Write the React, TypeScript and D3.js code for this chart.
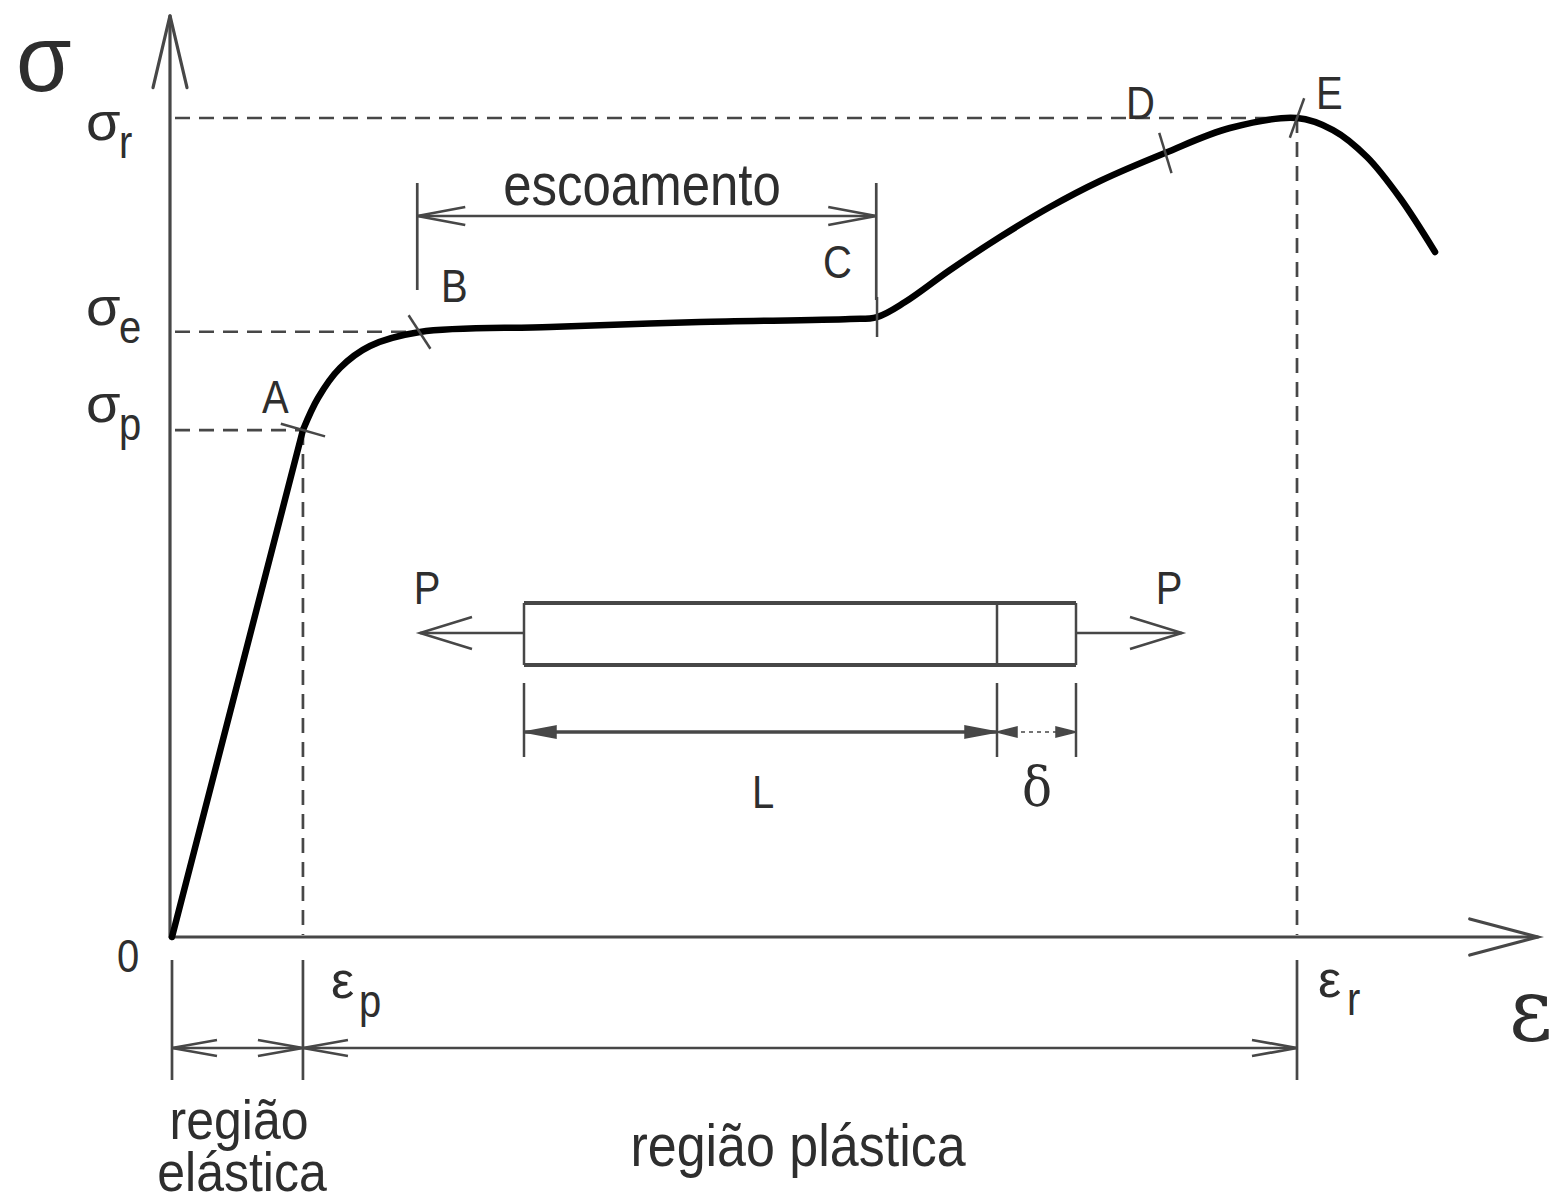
import React from "react";
import * as d3 from "d3";

// ---- data ----
const strainValues = [0, 11.64];
const stressValues = [0, 61.9];
const plasticStrain = [11.64, 12.98, 14.93, 17.6, 22.04, 33.6, 46.93, 60.27, 62.67, 65.16, 69.16, 73.6, 78.04, 82.49, 88.27, 94.04, 100, 103.2, 106.22, 109.16, 112.27];
const plasticStress = [61.9, 65.81, 69.47, 72.16, 73.87, 74.48, 75.09, 75.46, 75.7, 77.53, 81.44, 85.47, 89.13, 92.31, 95.73, 98.78, 100, 98.53, 95.24, 90.23, 83.64];

const pointLabels = ["A", "B", "C", "D", "E"];
const pointStrain = [11.64, 22.0, 62.67, 88.3, 100];
const pointStress = [61.9, 73.87, 75.7, 95.73, 100];

const sigmaLabels = ["r", "e", "p"];
const sigmaValues = [100, 73.9, 61.9];
const sigmaDashEnd = [100, 21.0, 11.64];

const epsLabels = ["p", "r"];
const epsValues = [11.64, 100];
const epsTopStress = [61.9, 100];

// ---- styling ----
const FONT = "'Liberation Sans', Arial, Helvetica, sans-serif";
const AXIS = "#474747";
const TXT = "#2e2e2e";

const tickAngles = [16, 57, 90, 73, -70];
const tickHalf = [23, 20, 20, 21, 21];

function openArrow(tx: number, ty: number, angleDeg: number, len: number, half: number) {
  const a = (angleDeg * Math.PI) / 180;
  const bx = tx - Math.cos(a) * len;
  const by = ty - Math.sin(a) * len;
  const nx = -Math.sin(a) * half;
  const ny = Math.cos(a) * half;
  return `M${bx + nx},${by + ny}L${tx},${ty}L${bx - nx},${by - ny}`;
}

function filledArrow(tx: number, ty: number, angleDeg: number, len: number, half: number) {
  const a = (angleDeg * Math.PI) / 180;
  const bx = tx - Math.cos(a) * len;
  const by = ty - Math.sin(a) * len;
  const nx = -Math.sin(a) * half;
  const ny = Math.cos(a) * half;
  return `M${bx + nx},${by + ny}L${tx},${ty}L${bx - nx},${by - ny}Z`;
}

const T = (props: any) => {
  const { x, y, size, sy = 1.15, children, anchor = "start", family = FONT, color = TXT } = props;
  return (
    <text
      transform={`translate(${x},${y}) scale(1,${sy})`}
      fontFamily={family}
      fontSize={size}
      fill={color}
      textAnchor={anchor}
    >
      {children}
    </text>
  );
};

export default function App() {
  const W = 1553, H = 1203;
  const x = d3.scaleLinear().domain([0, 100]).range([172, 1297]);
  const y = d3.scaleLinear().domain([0, 100]).range([937, 118]);

  const elastic = d3.line<number>().x((d, i) => x(strainValues[i])).y((d, i) => y(stressValues[i]));
  const plastic = d3
    .line<number>()
    .x((d, i) => x(plasticStrain[i]))
    .y((d, i) => y(plasticStress[i]))
    .curve(d3.curveCatmullRom.alpha(0.5));

  const x0 = x(0), y0 = y(0);
  const yTop = y(112.5);
  const xEnd = x(121.4);

  const dimY = 1048;
  const dimTop = 960, dimBot = 1080;

  // specimen (schematic) in pixel space
  const sL = 524, sR = 1076, sM = 997, sT = 603, sB = 665, sC = 633;
  const sDimY = 732;

  return (
    <svg width={W} height={H} style={{ position: "absolute", left: 0, top: 0, background: "#fff" }}>
      <rect width={W} height={H} fill="#fff" />
      {/* dashed reference lines */}
      <g stroke={AXIS} strokeWidth={2.7} strokeDasharray="15,9" fill="none">
        {sigmaValues.map((v, i) => (
          <line key={"sd" + i} x1={x0 + 3} x2={x(sigmaDashEnd[i])} y1={y(v)} y2={y(v)} />
        ))}
        {epsValues.map((v, i) => (
          <line key={"ed" + i} x1={x(v)} x2={x(v)} y1={y(epsTopStress[i])} y2={y0 - 2} />
        ))}
      </g>

      {/* axes */}
      <g stroke={AXIS} strokeWidth={3.2} fill="none" strokeLinecap="round">
        <line x1={x0 - 2} y1={y0} x2={x0 - 2} y2={yTop} />
        <path d={openArrow(x0 - 2, yTop, -90, 72, 17)} />
        <line x1={x0} y1={y0} x2={xEnd} y2={y0} />
        <path d={openArrow(xEnd, y0, 0, 68, 18)} />
      </g>

      {/* curve */}
      <path d={elastic(strainValues) || ""} stroke="#000" strokeWidth={6.5} fill="none" strokeLinecap="round" />
      <path d={plastic(plasticStrain) || ""} stroke="#000" strokeWidth={6.5} fill="none" strokeLinecap="round" strokeLinejoin="round" />

      {/* point tick marks */}
      <g stroke={AXIS} strokeWidth={2.5}>
        {pointLabels.map((l, i) => {
          const px = x(pointStrain[i]), py = y(pointStress[i]);
          const a = (tickAngles[i] * Math.PI) / 180;
          const h = tickHalf[i];
          return (
            <line key={"tk" + l} x1={px - Math.cos(a) * h} y1={py - Math.sin(a) * h} x2={px + Math.cos(a) * h} y2={py + Math.sin(a) * h} />
          );
        })}
      </g>

      {/* escoamento dimension */}
      <g stroke={AXIS} strokeWidth={2.7} fill="none">
        <line x1={x(21.8)} x2={x(21.8)} y1={183} y2={290} />
        <line x1={x(62.6)} x2={x(62.6)} y1={183} y2={300} />
        <line x1={x(21.8)} x2={x(62.6)} y1={216} y2={216} />
        <path d={openArrow(x(21.8), 216, 180, 48, 9)} />
        <path d={openArrow(x(62.6), 216, 0, 48, 9)} />
      </g>
      <T x={642} y={205} size={51} anchor="middle">escoamento</T>

      {/* point labels */}
      <T x={262} y={413} size={40}>A</T>
      <T x={441} y={302} size={40}>B</T>
      <T x={823} y={278} size={40}>C</T>
      <T x={1126} y={119} size={40}>D</T>
      <T x={1316} y={109} size={40}>E</T>

      {/* sigma labels */}
      <T x={16} y={91} size={90} sy={1.05}>σ</T>
      {sigmaLabels.map((l, i) => {
        const offs = [22, -7, -8][i];
        const base = y(sigmaValues[i]) + offs;
        return (
          <g key={"sl" + l}>
            <T x={86} y={base} size={56} sy={0.95}>σ</T>
            <T x={119} y={base + 18} size={40}>{l}</T>
          </g>
        );
      })}

      {/* origin and epsilon labels */}
      <T x={117} y={972} size={40}>0</T>
      <T x={331} y={998} size={52} sy={1.0}>ε</T>
      <T x={359} y={1017} size={40}>p</T>
      <T x={1318} y={997} size={52} sy={1.0}>ε</T>
      <T x={1347} y={1015} size={40}>r</T>
      <T x={1509} y={1040} size={84} sy={1.05} family="'DejaVu Serif', 'Liberation Serif', serif">ε</T>

      {/* region dimension below axis */}
      <g stroke={AXIS} strokeWidth={2.7} fill="none">
        {[0, ...epsValues].map((v, i) => (
          <line key={"rv" + i} x1={x(v)} x2={x(v)} y1={dimTop} y2={dimBot} />
        ))}
        <line x1={x(0)} x2={x(100)} y1={dimY} y2={dimY} />
        <path d={openArrow(x(0), dimY, 180, 45, 8)} />
        <path d={openArrow(x(11.64), dimY, 0, 45, 8)} />
        <path d={openArrow(x(11.64), dimY, 180, 45, 8)} />
        <path d={openArrow(x(100), dimY, 0, 45, 8)} />
      </g>
      <T x={239} y={1139} size={50} sy={1.1} anchor="middle">região</T>
      <T x={242} y={1191} size={50} sy={1.1} anchor="middle">elástica</T>
      <T x={798} y={1166} size={52} anchor="middle">região plástica</T>

      {/* specimen */}
      <g stroke={AXIS} fill="none">
        <line x1={sL} x2={sR} y1={sT} y2={sT} strokeWidth={4} />
        <line x1={sL} x2={sR} y1={sB} y2={sB} strokeWidth={4} />
        <line x1={sL} x2={sL} y1={sT} y2={sB} strokeWidth={2.5} />
        <line x1={sR} x2={sR} y1={sT} y2={sB} strokeWidth={2.5} />
        <line x1={sM} x2={sM} y1={sT} y2={sB} strokeWidth={2.5} />
        <line x1={sL} x2={420} y1={sC} y2={sC} strokeWidth={2.5} />
        <path d={openArrow(420, sC, 180, 52, 16)} strokeWidth={2.5} />
        <line x1={sR} x2={1182} y1={sC} y2={sC} strokeWidth={2.5} />
        <path d={openArrow(1182, sC, 0, 52, 16)} strokeWidth={2.5} />
        {[sL, sM, sR].map((v, i) => (
          <line key={"sv" + i} x1={v} x2={v} y1={683} y2={757} strokeWidth={2.5} />
        ))}
        <line x1={sL} x2={sM} y1={sDimY} y2={sDimY} strokeWidth={3.5} />
        <line x1={sM} x2={sR} y1={sDimY} y2={sDimY} strokeWidth={1.5} strokeDasharray="4,4" />
      </g>
      <g fill={AXIS} stroke={AXIS} strokeWidth={1.5}>
        <path d={filledArrow(sL, sDimY, 180, 32, 6)} />
        <path d={filledArrow(sM, sDimY, 0, 32, 6)} />
        <path d={filledArrow(sM, sDimY, 180, 20, 5)} />
        <path d={filledArrow(sR, sDimY, 0, 20, 5)} />
      </g>
      <T x={427} y={604} size={40} anchor="middle">P</T>
      <T x={1169} y={604} size={40} anchor="middle">P</T>
      <T x={763} y={808} size={40} anchor="middle">L</T>
      <T x={1037} y={805} size={50} sy={1.1} anchor="middle" family="'DejaVu Serif', 'Liberation Serif', serif">δ</T>
    </svg>
  );
}
